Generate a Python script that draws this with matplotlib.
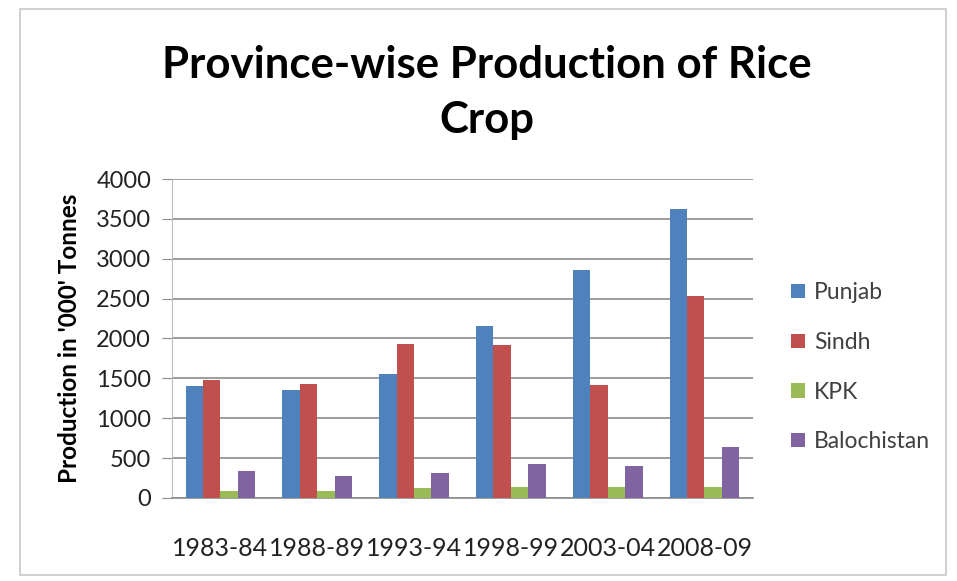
import numpy as np
import matplotlib
matplotlib.use("Agg")
from matplotlib import pyplot as plt
from matplotlib.patches import Rectangle

years = ["1983-84", "1988-89", "1993-94", "1998-99", "2003-04", "2008-09"]
punjab = [1400, 1355, 1560, 2160, 2860, 3620]
sindh = [1480, 1430, 1930, 1915, 1420, 2535]
kpk = [85, 85, 130, 135, 135, 135]
balochistan = [335, 270, 315, 430, 395, 640]

series = [("Punjab", punjab, "#4F81BD"),
          ("Sindh", sindh, "#C0504D"),
          ("KPK", kpk, "#9BBB59"),
          ("Balochistan", balochistan, "#8064A2")]

plt.rcParams['font.family'] = ['Lato', 'DejaVu Sans']

fig = plt.figure(figsize=(9.57, 5.81), dpi=100)
fig.patches.append(Rectangle((0.021, 0.01), 0.968, 0.975, transform=fig.transFigure,
                             fill=False, edgecolor="#c8c8c8", lw=1.2))

ax = fig.add_axes([0.1797, 0.1429, 0.607, 0.549])
x = np.arange(len(years))
w = 0.18
for i, (name, vals, col) in enumerate(series):
    ax.bar(x + (i - 1.5) * w, vals, w, color=col, label=name, zorder=3)

ax.set_xlim(-0.5, 5.5)
ax.set_ylim(0, 4000)
ax.set_yticks(range(0, 4001, 500))
ax.yaxis.grid(True, color="#8c8c8c", lw=1.2, zorder=0)
for s in ["top", "right"]:
    ax.spines[s].set_visible(False)
ax.spines["left"].set_color("#bcbcbc")
ax.spines["bottom"].set_color("#8c8c8c")
ax.spines["bottom"].set_linewidth(1.2)
ax.tick_params(axis="y", length=7, color="#8c8c8c", labelsize=17, labelcolor="#222222", pad=8)
ax.tick_params(axis="x", length=0, pad=28, labelsize=18, labelcolor="#222222")
ax.set_xticks(x)
ax.set_xticklabels(years)

ax.set_ylabel("Production in '000' Tonnes", fontsize=17.5, fontweight="bold", labelpad=11)

fig.text(0.509, 0.888, "Province-wise Production of Rice", ha="center", va="center",
         fontsize=31.5, fontweight="bold")
fig.text(0.509, 0.793, "Crop", ha="center", va="center", fontsize=31.5, fontweight="bold")

leg = ax.legend(loc="center left", bbox_to_anchor=(1.03, 0.41), frameon=False,
                fontsize=16.5, labelspacing=1.25, handlelength=0.6, handleheight=0.6,
                handletextpad=0.4)
for t in leg.get_texts():
    t.set_color("#404040")

fig.savefig("out.png", dpi=100)
